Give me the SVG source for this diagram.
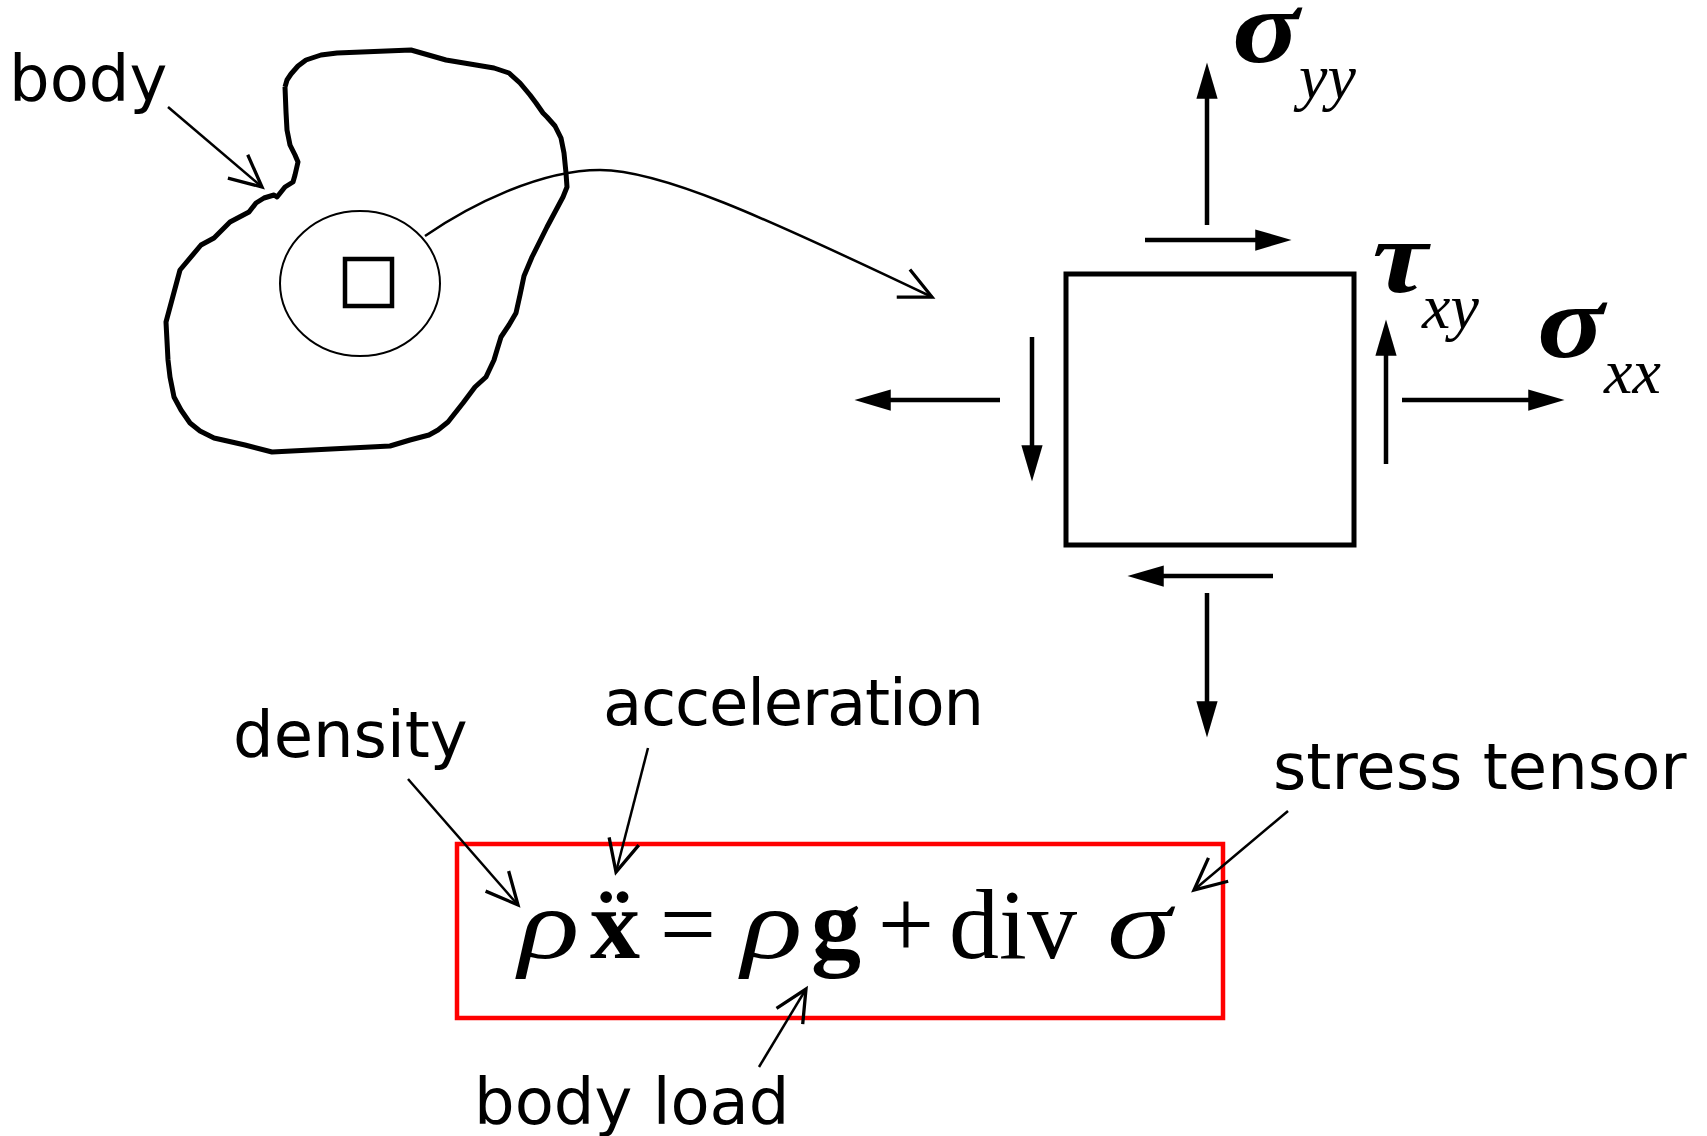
<svg xmlns="http://www.w3.org/2000/svg" width="1707" height="1136" viewBox="0 0 1707 1136">
<defs>
<style>
.lbl{font-family:"DejaVu Sans","Liberation Sans",sans-serif;font-size:64px;fill:#000}
.math{font-family:"Liberation Serif","Times New Roman",serif;fill:#000}
.sym{font-size:104px;font-style:italic;font-weight:bold}
.sub{font-size:64px;font-style:italic}
.eq{font-size:100px}
.thin{fill:none;stroke:#000;stroke-width:2.5}
.stress{fill:none;stroke:#000;stroke-width:4.5}
</style>
<marker id="open" markerUnits="userSpaceOnUse" markerWidth="40" markerHeight="40" viewBox="-30 -15 34 30" refX="0" refY="0" orient="auto" overflow="visible">
<path d="M-27,-13 L0,0 L-27,13" fill="none" stroke="#000" stroke-width="2.8"/>
</marker>
<marker id="solid" markerUnits="userSpaceOnUse" markerWidth="40" markerHeight="40" viewBox="-20 -10 32 20" refX="0" refY="0" orient="auto" overflow="visible">
<path d="M10,0 L-19,-8.5 L-19,8.5 Z" fill="#000"/>
</marker>
</defs>
<rect width="1707" height="1136" fill="#fff"/>

<g id="body">
<polyline fill="none" stroke="#000" stroke-width="5" stroke-linejoin="round" points="285,87 287,80 291,74 298,66 306,60 321,55 337,53 411,50 446,60 494,68 509,73 520,83 530,95 536,103 543,113 547,117 555,126 561,138 564,153 566,173 567,187 563,197 547,227 532,257 524,276 520,295 516,313 509,325 501,337 497,350 494,360 486,377 475,387 463,403 448,422 438,430 429,435 410,440 390,446 272,452 245,445 214,438 200,431 190,423 181,410 174,397 170,377 168,360 166,322 180,270 201,245 214,238 230,222 249,212 256,203 264,198 274,195 277,197 285,187 293,182 295,175 298,162 295,155 290,145 287,130 286,112 285,87"/>
</g>
<g id="region">
<ellipse cx="360" cy="283.5" rx="80" ry="72.5" fill="none" stroke="#000" stroke-width="2"/>
<rect x="345" y="259" width="47" height="47" fill="none" stroke="#000" stroke-width="4.5"/>
</g>

<g id="element">
<rect x="1066" y="274" width="288" height="271" fill="none" stroke="#000" stroke-width="5"/>
</g>

<g id="sigma-yy">
<text class="math sym" text-anchor="middle" transform="translate(1266,62) scale(1.2,1)">σ</text>
<text class="math sub" x="1299" y="98">yy</text>
</g>
<g id="tau-xy">
<text class="math sym" text-anchor="middle" transform="translate(1400,292) scale(1.2,1)">τ</text>
<text class="math sub" x="1422" y="328">xy</text>
</g>
<g id="sigma-xx">
<text class="math sym" text-anchor="middle" transform="translate(1571,357) scale(1.2,1)">σ</text>
<text class="math sub" x="1604" y="393">xx</text>
</g>

<g id="equation">
<rect x="457" y="844" width="766" height="174" fill="none" stroke="#ff0000" stroke-width="4.5"/>
<g class="math eq" text-anchor="middle">
<text transform="translate(549,958) scale(1.27,1)" font-style="italic">ρ</text>
<text x="615" y="958" font-weight="bold">ẍ</text>
<text x="688" y="958">=</text>
<text transform="translate(772,958) scale(1.27,1)" font-style="italic">ρ</text>
<text x="836" y="958" font-weight="bold">g</text>
<text x="906" y="958">+</text>
<text x="1013" y="958">div</text>
<text transform="translate(1139,958) scale(1.3,1)" font-style="italic">σ</text>
</g>
</g>

<g id="labels">
<text class="lbl" x="9" y="101">body</text>
<text class="lbl" x="233" y="757">density</text>
<text class="lbl" x="603" y="725" textLength="381">acceleration</text>
<text class="lbl" x="1273" y="789">stress tensor</text>
<text class="lbl" x="474" y="1124">body load</text>
</g>

<g id="connectors">
<path class="thin" d="M168,107 L262,187" marker-end="url(#open)"/>
<path class="thin" d="M425,236 C470,205 540,170 600,170 C660,170 760,215 932,297" marker-end="url(#open)"/>
<path class="thin" d="M408,779 L518,905" marker-end="url(#open)"/>
<path class="thin" d="M648,748 L616,872" marker-end="url(#open)"/>
<path class="thin" d="M1288,811 L1194,890" marker-end="url(#open)"/>
<path class="thin" d="M759,1067 L806,989" marker-end="url(#open)"/>

<path class="stress" d="M1207,225 L1207,75" marker-end="url(#solid)"/>
<path class="stress" d="M1145,240 L1279,240" marker-end="url(#solid)"/>
<path class="stress" d="M1386,464 L1386,332" marker-end="url(#solid)"/>
<path class="stress" d="M1402,400 L1552,400" marker-end="url(#solid)"/>
<path class="stress" d="M1000,400 L867,400" marker-end="url(#solid)"/>
<path class="stress" d="M1032,337 L1032,469" marker-end="url(#solid)"/>
<path class="stress" d="M1273,576 L1140,576" marker-end="url(#solid)"/>
<path class="stress" d="M1207,593 L1207,725" marker-end="url(#solid)"/>
</g>
</svg>
